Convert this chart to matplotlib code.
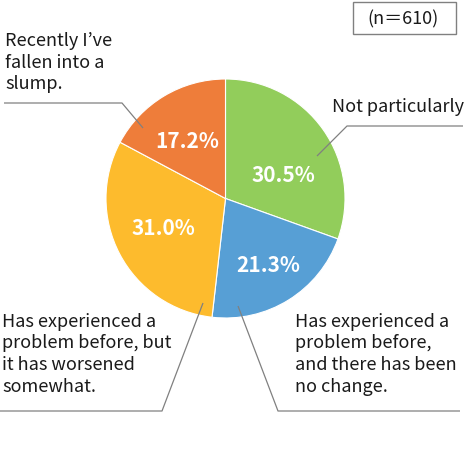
import matplotlib
matplotlib.use("Agg")
import matplotlib.pyplot as plt
from matplotlib.patches import Rectangle

plt.rcParams['font.family'] = ['Noto Sans CJK JP', 'DejaVu Sans']

# data
categories = ['Not particularly',
              'Has experienced a\nproblem before,\nand there has been\nno change.',
              'Has experienced a\nproblem before, but\nit has worsened\nsomewhat.',
              'Recently I\u2019ve\nfallen into a\nslump.']
values = [30.5, 21.3, 31.0, 17.2]
colors = ['#92CD5B', '#579FD5', '#FDBB2D', '#EE7D3A']
n_total = 610

W, H = 474, 460


def Y(y):
    # pixel row (from top) -> data y
    return H - y


def main():
    fig = plt.figure(figsize=(W / 100, H / 100), dpi=100)
    ax = fig.add_axes([0, 0, 1, 1])

    cx, cy, r = 225.5, 199.5, 119.5
    wedges, _ = ax.pie(values, colors=colors, startangle=90, counterclock=False,
                       center=(cx, Y(cy)), radius=r,
                       wedgeprops=dict(linewidth=0.8, edgecolor='white'))
    ax.set_xlim(0, W)
    ax.set_ylim(0, H)
    ax.axis('off')

    # percentage labels inside slices
    pct_pos = [(283, 175), (268, 266), (163, 229), (187, 142)]
    for v, (px, py) in zip(values, pct_pos):
        ax.text(px, Y(py), f'{v:.1f}%', color='white', fontsize=15,
                fontweight='bold', ha='center', va='center')

    # leader lines
    line_col = '#808080'
    leaders = [
        [(317, 157), (347, 127), (463, 127)],
        [(238, 307), (278, 412), (460, 412)],
        [(203, 304), (162, 412), (0, 412)],
        [(143, 129), (122, 104), (4, 104)],
    ]
    for pts in leaders:
        ax.plot([p[0] for p in pts], [Y(p[1]) for p in pts], color=line_col,
                lw=0.9, solid_capstyle='butt')

    # category labels
    label_pos = [(332, 107), (295, 322), (2, 322), (5, 41)]
    for txt, (px, py) in zip(categories, label_pos):
        ax.text(px, Y(py) + 9, txt, color='#1a1a1a', fontsize=13,
                ha='left', va='top', linespacing=1.25)

    # sample size box
    ax.add_patch(Rectangle((353, Y(35)), 103, 32, fill=False,
                           edgecolor='#808080', lw=1))
    ax.text(403, Y(19), f'(n\uff1d{n_total})', fontsize=13, ha='center',
            va='center', color='#1a1a1a')

    fig.savefig('out.png', dpi=100)


if __name__ == "__main__":
    main()
